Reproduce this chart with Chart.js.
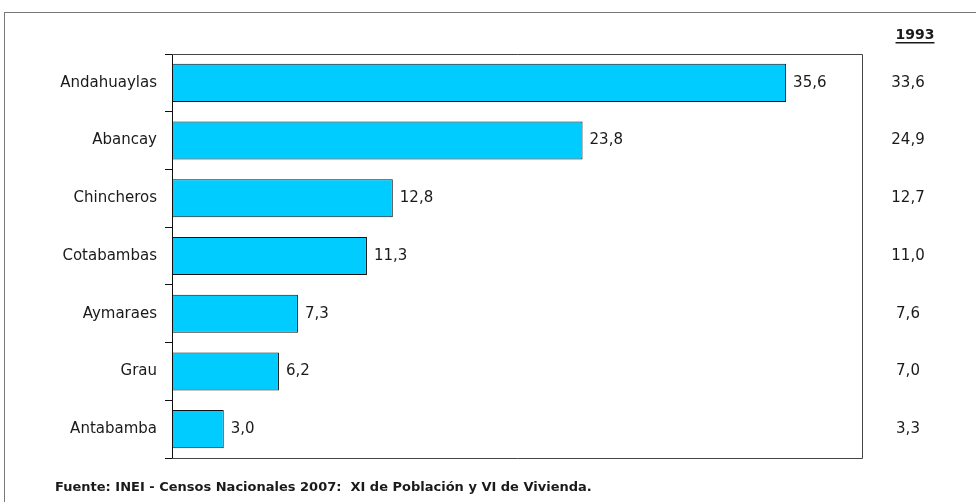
<!DOCTYPE html>
<html>
<head>
    <title>Provincias</title>
    <style>
        body { margin: 0; background: #fff; }
        .chart-container { width: 976px; height: 502px; }
    </style>
</head>
<body>
    <div class="chart-container">
        <canvas id="myChart" width="976" height="502"></canvas>
    </div>

    <script src="https://cdn.jsdelivr.net/npm/chart.js@4/dist/chart.umd.min.js"></script>
    <script>
        const provincias = ['Andahuaylas', 'Abancay', 'Chincheros', 'Cotabambas', 'Aymaraes', 'Grau', 'Antabamba'];
        const valores2007 = [35.6, 23.8, 12.8, 11.3, 7.3, 6.2, 3.0];
        const valores1993 = [33.6, 24.9, 12.7, 11.0, 7.6, 7.0, 3.3];
        const tituloColumna = '1993';
        const fuente = 'Fuente: INEI - Censos Nacionales 2007:  XI de Población y VI de Vivienda.';

        const fmt = v => v.toFixed(1).replace('.', ',');
        const labelFont = '15px "DejaVu Sans"';

        // frame, box around plot, labels, extra column
        const extras = {
            id: 'extras',
            beforeDraw(chart) {
                const ctx = chart.ctx;
                ctx.save();
                ctx.fillStyle = '#fff';
                ctx.fillRect(0, 0, chart.width, chart.height);
                ctx.strokeStyle = '#777';
                ctx.lineWidth = 1;
                ctx.strokeRect(4.5, 12.5, chart.width + 20, chart.height + 20);
                ctx.restore();
            },
            afterDatasetsDraw(chart) {
                const ctx = chart.ctx;
                const area = chart.chartArea;
                ctx.save();
                ctx.strokeStyle = '#444';
                ctx.lineWidth = 1;
                ctx.beginPath();
                ctx.moveTo(area.left, area.top + 0.5);
                ctx.lineTo(area.right + 0.5, area.top + 0.5);
                ctx.lineTo(area.right + 0.5, area.bottom + 0.5);
                ctx.lineTo(area.left, area.bottom + 0.5);
                ctx.stroke();

                ctx.fillStyle = '#1a1a1a';
                ctx.font = labelFont;
                ctx.textBaseline = 'middle';
                const meta = chart.getDatasetMeta(0);
                meta.data.forEach((bar, i) => {
                    ctx.textAlign = 'left';
                    ctx.fillText(fmt(valores2007[i]), bar.x + 7, bar.y);
                    ctx.textAlign = 'center';
                    ctx.fillText(fmt(valores1993[i]), area.right + 46, bar.y);
                });

                // column header
                ctx.font = 'bold 14px "DejaVu Sans"';
                ctx.textAlign = 'center';
                const hx = area.right + 53, hy = 35;
                ctx.fillText(tituloColumna, hx, hy);
                const w = ctx.measureText(tituloColumna).width;
                ctx.fillRect(hx - w / 2, hy + 7, w, 1.5);

                // source note
                ctx.font = 'bold 13px "DejaVu Sans"';
                ctx.textAlign = 'left';
                ctx.fillText(fuente, 55, 488);
                ctx.restore();
            }
        };

        const ctx = document.getElementById('myChart').getContext('2d');
        new Chart(ctx, {
            type: 'bar',
            data: {
                labels: provincias,
                datasets: [{
                    data: valores2007,
                    backgroundColor: '#00CCFF',
                    borderColor: '#111',
                    borderWidth: 1,
                    borderSkipped: false,
                    categoryPercentage: 1,
                    barPercentage: 0.66
                }]
            },
            options: {
                indexAxis: 'y',
                responsive: false,
                animation: false,
                layout: { padding: { left: 0, top: 54, right: 114, bottom: 44 } },
                plugins: { legend: { display: false }, tooltip: { enabled: false } },
                scales: {
                    x: { display: false, min: 0, max: 40 },
                    y: {
                        afterFit(scale) { scale.width = 172; },
                        border: { display: true, color: '#111', width: 1 },
                        grid: { drawOnChartArea: false, drawTicks: true, tickLength: 7, color: '#111', offset: true },
                        ticks: { color: '#1a1a1a', font: { family: 'DejaVu Sans', size: 15 }, padding: 8 }
                    }
                }
            },
            plugins: [extras]
        });
    </script>
</body>
</html>
